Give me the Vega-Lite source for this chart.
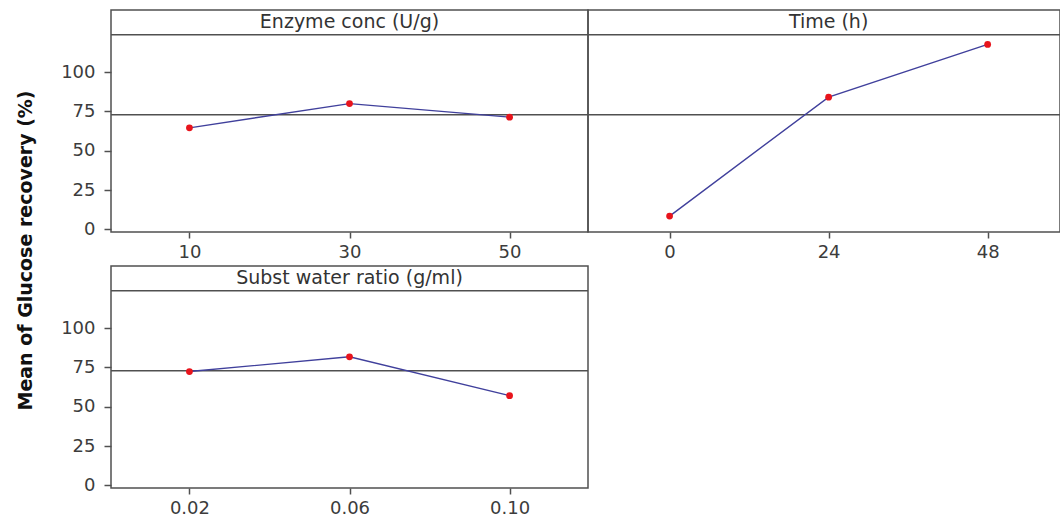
{
  "$schema": "https://vega.github.io/schema/vega-lite/v6.json",
  "padding": {"left": 16, "top": 9, "right": 0, "bottom": 0},
  "background": "white",
  "title": {
    "text": "Mean of Glucose recovery (%)",
    "orient": "left",
    "anchor": "middle",
    "font": "DejaVu Sans",
    "fontWeight": "bold",
    "fontSize": 19,
    "color": "#111111",
    "offset": 24,
    "dx": 13
  },
  "datasets": {
    "effects": [
      {"factor": "Enzyme conc (U/g)", "level": "10", "mean": 64.6},
      {"factor": "Enzyme conc (U/g)", "level": "30", "mean": 80.0},
      {"factor": "Enzyme conc (U/g)", "level": "50", "mean": 71.4},
      {"factor": "Time (h)", "level": "0", "mean": 8.5},
      {"factor": "Time (h)", "level": "24", "mean": 84.1},
      {"factor": "Time (h)", "level": "48", "mean": 117.6},
      {"factor": "Subst water ratio (g/ml)", "level": "0.02", "mean": 72.4},
      {"factor": "Subst water ratio (g/ml)", "level": "0.06", "mean": 81.8},
      {"factor": "Subst water ratio (g/ml)", "level": "0.10", "mean": 57.1}
    ],
    "headers": [
      {"factor": "Enzyme conc (U/g)", "level": "30", "strip": 131.6, "edge": 123.7},
      {"factor": "Time (h)", "level": "24", "strip": 131.6, "edge": 123.7},
      {"factor": "Subst water ratio (g/ml)", "level": "0.06", "strip": 131.6, "edge": 123.7}
    ],
    "grand": [{"mean": 73.0}]
  },
  "config": {
    "view": {"stroke": "#505050", "strokeWidth": 1.5},
    "axis": {
      "labelFont": "DejaVu Sans",
      "labelFontSize": 18,
      "labelColor": "#3c3c3c",
      "tickColor": "#505050",
      "tickWidth": 1.5,
      "grid": false,
      "domain": false,
      "title": null
    },
    "axisX": {"labelAlign": "center", "labelAngle": 0, "tickSize": 6, "labelPadding": 5},
    "axisY": {"tickSize": 7, "labelPadding": 9},
    "rule": {"color": "#505050", "strokeWidth": 1.5},
    "line": {"color": "#40409c", "strokeWidth": 1.4},
    "circle": {"color": "#e8141c", "opacity": 1, "size": 46}
  },
  "spacing": 3,
  "vconcat": [
    {
      "bounds": "flush",
      "spacing": 0,
      "hconcat": [
        {
          "width": 477,
          "height": 222,
          "layer": [
            {
              "data": {"name": "grand"},
              "mark": "rule",
              "encoding": {"y": {"field": "mean", "type": "quantitative", "scale": {"domain": [-1.6, 139.5], "nice": false, "zero": false}, "axis": {"values": [0, 25, 50, 75, 100]}}}
            },
            {
              "data": {"name": "headers"},
              "transform": [{"filter": "datum.factor === 'Enzyme conc (U/g)'"}],
              "mark": "rule",
              "encoding": {"y": {"field": "edge", "type": "quantitative"}}
            },
            {
              "data": {"name": "headers"},
              "transform": [{"filter": "datum.factor === 'Enzyme conc (U/g)'"}],
              "mark": {"type": "text", "font": "DejaVu Sans", "fontSize": 19, "color": "#333333", "baseline": "middle", "align": "center"},
              "encoding": {
                "x": {"field": "level", "type": "ordinal", "sort": ["10", "30", "50"]},
                "y": {"field": "strip", "type": "quantitative"},
                "text": {"field": "factor"}
              }
            },
            {
              "data": {"name": "effects"},
              "transform": [{"filter": "datum.factor === 'Enzyme conc (U/g)'"}],
              "mark": "line",
              "encoding": {
                "x": {"field": "level", "type": "ordinal", "sort": ["10", "30", "50"], "scale": {"type": "point", "padding": 0.49, "align": 0.5}},
                "y": {"field": "mean", "type": "quantitative"}
              }
            },
            {
              "data": {"name": "effects"},
              "transform": [{"filter": "datum.factor === 'Enzyme conc (U/g)'"}],
              "mark": "circle",
              "encoding": {
                "x": {"field": "level", "type": "ordinal", "sort": ["10", "30", "50"]},
                "y": {"field": "mean", "type": "quantitative"}
              }
            }
          ]
        },
        {
          "width": 472,
          "height": 222,
          "layer": [
            {
              "data": {"name": "grand"},
              "mark": "rule",
              "encoding": {"y": {"field": "mean", "type": "quantitative", "scale": {"domain": [-1.6, 139.5], "nice": false, "zero": false}, "axis": null}}
            },
            {
              "data": {"name": "headers"},
              "transform": [{"filter": "datum.factor === 'Time (h)'"}],
              "mark": "rule",
              "encoding": {"y": {"field": "edge", "type": "quantitative", "axis": null}}
            },
            {
              "data": {"name": "headers"},
              "transform": [{"filter": "datum.factor === 'Time (h)'"}],
              "mark": {"type": "text", "font": "DejaVu Sans", "fontSize": 19, "color": "#333333", "baseline": "middle", "align": "center"},
              "encoding": {
                "x": {"field": "level", "type": "ordinal", "sort": ["0", "24", "48"]},
                "y": {"field": "strip", "type": "quantitative", "axis": null},
                "text": {"field": "factor"}
              }
            },
            {
              "data": {"name": "effects"},
              "transform": [{"filter": "datum.factor === 'Time (h)'"}],
              "mark": "line",
              "encoding": {
                "x": {"field": "level", "type": "ordinal", "sort": ["0", "24", "48"], "scale": {"type": "point", "padding": 0.484, "align": 0.53}},
                "y": {"field": "mean", "type": "quantitative", "axis": null}
              }
            },
            {
              "data": {"name": "effects"},
              "transform": [{"filter": "datum.factor === 'Time (h)'"}],
              "mark": "circle",
              "encoding": {
                "x": {"field": "level", "type": "ordinal", "sort": ["0", "24", "48"]},
                "y": {"field": "mean", "type": "quantitative", "axis": null}
              }
            }
          ]
        }
      ]
    },
    {
      "width": 477,
      "height": 222,
      "layer": [
        {
          "data": {"name": "grand"},
          "mark": "rule",
          "encoding": {"y": {"field": "mean", "type": "quantitative", "scale": {"domain": [-1.6, 139.5], "nice": false, "zero": false}, "axis": {"values": [0, 25, 50, 75, 100]}}}
        },
        {
          "data": {"name": "headers"},
          "transform": [{"filter": "datum.factor === 'Subst water ratio (g/ml)'"}],
          "mark": "rule",
          "encoding": {"y": {"field": "edge", "type": "quantitative"}}
        },
        {
          "data": {"name": "headers"},
          "transform": [{"filter": "datum.factor === 'Subst water ratio (g/ml)'"}],
          "mark": {"type": "text", "font": "DejaVu Sans", "fontSize": 19, "color": "#333333", "baseline": "middle", "align": "center"},
          "encoding": {
            "x": {"field": "level", "type": "ordinal", "sort": ["0.02", "0.06", "0.10"]},
            "y": {"field": "strip", "type": "quantitative"},
            "text": {"field": "factor"}
          }
        },
        {
          "data": {"name": "effects"},
          "transform": [{"filter": "datum.factor === 'Subst water ratio (g/ml)'"}],
          "mark": "line",
          "encoding": {
            "x": {"field": "level", "type": "ordinal", "sort": ["0.02", "0.06", "0.10"], "scale": {"type": "point", "padding": 0.49, "align": 0.5}},
            "y": {"field": "mean", "type": "quantitative"}
          }
        },
        {
          "data": {"name": "effects"},
          "transform": [{"filter": "datum.factor === 'Subst water ratio (g/ml)'"}],
          "mark": "circle",
          "encoding": {
            "x": {"field": "level", "type": "ordinal", "sort": ["0.02", "0.06", "0.10"]},
            "y": {"field": "mean", "type": "quantitative"}
          }
        }
      ]
    }
  ]
}
